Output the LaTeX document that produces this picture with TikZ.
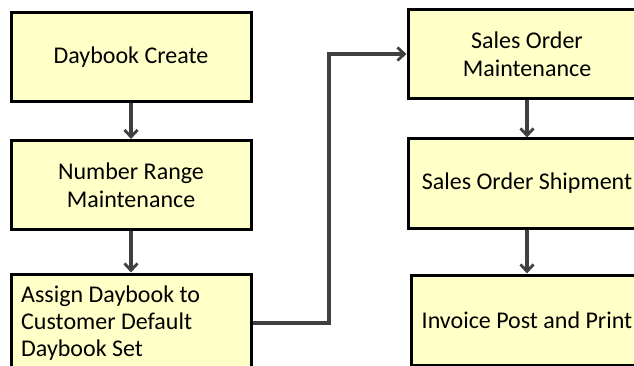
\documentclass[tikz,border=0pt]{standalone}
\usepackage{fontspec}
\setmainfont{Carlito}
\usepackage{xcolor}
\usetikzlibrary{positioning, arrows.meta}

\definecolor{boxfill}{RGB}{255,255,200}
\definecolor{linkgray}{RGB}{64,64,64}

\tikzset{
    stepbox/.style={draw=black, line width=3pt, fill=boxfill, minimum width=240pt, minimum height=89pt, align=center, font=\fontsize{24}{28}\selectfont},
    flow/.style={draw=linkgray, line width=3.2pt, -{Straight Barb[length=7pt, width=13pt, line width=2.8pt]}}
}

\begin{document}
\begin{tikzpicture}[x=1pt, y=-1pt]
        \useasboundingbox (0,0) rectangle (634,366);
        \node[stepbox] (create) at (131,57.5) {Daybook Create};
        \node[stepbox] (range) at (131,185) {Number Range\\Maintenance};
        \node[stepbox, minimum height=100pt] (assign) at (131,324) {};
        \node[anchor=west, inner sep=0pt, align=left, font=\fontsize{24}{27}\selectfont] (assigntext) at (21,323) {Assign Daybook to\\Customer Default\\Daybook Set};
        \node[stepbox, minimum width=238pt] (order) at (527,54) {Sales Order\\Maintenance};
        \node[stepbox, minimum width=238pt] (ship) at (527,183.5) {Sales Order Shipment};
        \node[stepbox, minimum width=232pt, minimum height=90pt] (invoice) at (527,320) {Invoice Post and Print};
        \coordinate (bend) at (329,0);
        \draw[flow] (create) -- (range);
        \draw[flow] (range) -- (assign);
        \draw[flow] (assign.east |- assigntext) -- (bend |- assigntext) |- (order.west);
        \draw[flow] (order) -- (ship);
        \draw[flow] (ship) -- (invoice);
    \end{tikzpicture}
\end{document}
